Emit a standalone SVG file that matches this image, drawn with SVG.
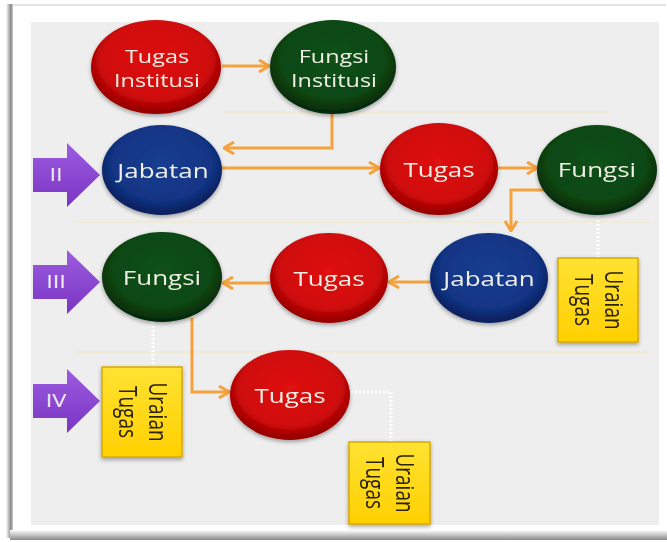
<svg xmlns="http://www.w3.org/2000/svg" width="667" height="542" viewBox="0 0 667 542">
<defs>
<style>
.nt{font-family:"Open Sans","Liberation Sans",sans-serif;font-size:20px;fill:#f0efe6;text-anchor:middle}
.nt2{font-family:"Open Sans","Liberation Sans",sans-serif;font-size:18px;fill:#f0efe6;text-anchor:middle}
.bt{font-family:"Open Sans","Liberation Sans",sans-serif;font-size:19px;fill:#2a2206;text-anchor:middle}
.at{font-family:"Open Sans","Liberation Sans",sans-serif;font-size:18px;fill:#f4ecff;text-anchor:middle}
.con{fill:none;stroke:#f4a23e;stroke-width:3;marker-end:url(#chev)}
.dot{fill:none;stroke:#ffffff;stroke-width:3;stroke-dasharray:2 2}
.sep{stroke:#efebd6;stroke-width:2}
.box{fill:url(#yel);stroke:#d9aa00;stroke-width:1.5}
.arr{fill:url(#pur)}
</style>
<radialGradient id="red" cx="50%" cy="42%" r="55%">
<stop offset="0" stop-color="#de1212"/><stop offset="0.75" stop-color="#d00a0a"/><stop offset="1" stop-color="#980000"/>
</radialGradient>
<radialGradient id="grn" cx="50%" cy="42%" r="55%">
<stop offset="0" stop-color="#125016"/><stop offset="0.75" stop-color="#0e4812"/><stop offset="1" stop-color="#062c09"/>
</radialGradient>
<radialGradient id="blu" cx="50%" cy="42%" r="55%">
<stop offset="0" stop-color="#173d8f"/><stop offset="0.75" stop-color="#123585"/><stop offset="1" stop-color="#0a2160"/>
</radialGradient>
<linearGradient id="yel" x1="0" y1="0" x2="0" y2="1">
<stop offset="0" stop-color="#ffe233"/><stop offset="1" stop-color="#ffd000"/>
</linearGradient>
<linearGradient id="pur" x1="0" y1="0" x2="0" y2="1">
<stop offset="0" stop-color="#9c5ce0"/><stop offset="1" stop-color="#7a34c2"/>
</linearGradient>
<linearGradient id="bot" x1="0" y1="0" x2="0" y2="1">
<stop offset="0" stop-color="#ffffff"/><stop offset="1" stop-color="#8a8a8a"/>
</linearGradient>
<linearGradient id="lft" x1="0" y1="0" x2="1" y2="0">
<stop offset="0" stop-color="#ffffff"/><stop offset="0.7" stop-color="#888888"/><stop offset="1" stop-color="#cfcfcf"/>
</linearGradient>
<filter id="sh" x="-20%" y="-20%" width="140%" height="150%">
<feGaussianBlur in="SourceAlpha" stdDeviation="2"/>
<feOffset dx="0" dy="2" result="o"/>
<feComponentTransfer><feFuncA type="linear" slope="0.35"/></feComponentTransfer>
<feMerge><feMergeNode/><feMergeNode in="SourceGraphic"/></feMerge>
</filter>
<marker id="chev" viewBox="0 0 12 14" refX="11" refY="7" markerWidth="12" markerHeight="14" markerUnits="userSpaceOnUse" orient="auto">
<path d="M1,1 L11,7 L1,13" fill="none" stroke="#f4a23e" stroke-width="3"/>
</marker>
</defs>

<!-- frame -->
<rect x="0" y="0" width="667" height="542" fill="#ffffff"/>
<rect x="8" y="4" width="658" height="2" fill="#e4e4e4"/>
<rect x="6" y="4" width="7" height="534" fill="url(#lft)"/>
<rect x="10" y="530" width="657" height="10" fill="url(#bot)"/>
<rect x="31" y="22" width="628" height="503" fill="#eeeeee"/>

<!-- separators -->
<g id="separators">
<line class="sep" x1="225" y1="112" x2="610" y2="112"/>
<line class="sep" x1="75" y1="222" x2="650" y2="222"/>
<line class="sep" x1="75" y1="352" x2="650" y2="352"/>
</g>

<!-- dotted links -->
<g id="dotted">
<path class="dot" d="M598,216 V258"/>
<path class="dot" d="M153,322 V367"/>
<path class="dot" d="M351,392 H391 V442"/>
</g>

<!-- connectors -->
<g id="connectors">
<path class="con" d="M222,66 H269"/>
<path class="con" d="M332,114 V148 H224"/>
<path class="con" d="M222,168 H379"/>
<path class="con" d="M498,168 H537"/>
<path class="con" d="M548,190 H511 V231"/>
<path class="con" d="M430,282 H389"/>
<path class="con" d="M270,283 H223"/>
<path class="con" d="M192,318 V392 H229"/>
</g>

<!-- level arrows -->
<g id="level-II">
<path class="arr" d="M33,158 H67 V143 L100,175 L67,207 V192 H33 Z"/>
<text class="at" transform="translate(56,181) scale(1.3,1)" x="0" y="0">II</text>
</g>
<g id="level-III">
<path class="arr" d="M33,265 H67 V250 L100,282 L67,314 V299 H33 Z"/>
<text class="at" transform="translate(56,288) scale(1.3,1)" x="0" y="0">III</text>
</g>
<g id="level-IV">
<path class="arr" d="M33,384 H67 V369 L100,401 L67,433 V418 H33 Z"/>
<text class="at" transform="translate(56,407) scale(1.3,1)" x="0" y="0">IV</text>
</g>

<!-- nodes -->
<g id="tugas-institusi" filter="url(#sh)">
<ellipse cx="156" cy="67" rx="65" ry="47" fill="url(#red)"/>
<g transform="translate(157,0) scale(1.3,1)"><text class="nt2" x="0" y="63">Tugas</text><text class="nt2" x="0" y="87">Institusi</text></g>
</g>
<g id="fungsi-institusi" filter="url(#sh)">
<ellipse cx="333" cy="67" rx="63" ry="47" fill="url(#grn)"/>
<g transform="translate(334,0) scale(1.3,1)"><text class="nt2" x="0" y="63">Fungsi</text><text class="nt2" x="0" y="87">Institusi</text></g>
</g>
<g id="jabatan-2" filter="url(#sh)">
<ellipse cx="162" cy="170" rx="60" ry="45" fill="url(#blu)"/>
<text class="nt" transform="translate(163,178) scale(1.3,1)">Jabatan</text>
</g>
<g id="tugas-2" filter="url(#sh)">
<ellipse cx="439" cy="169" rx="59" ry="46" fill="url(#red)"/>
<text class="nt" transform="translate(439,177) scale(1.3,1)">Tugas</text>
</g>
<g id="fungsi-2" filter="url(#sh)">
<ellipse cx="597" cy="170" rx="60" ry="45" fill="url(#grn)"/>
<text class="nt" transform="translate(597,177) scale(1.3,1)">Fungsi</text>
</g>
<g id="jabatan-3" filter="url(#sh)">
<ellipse cx="489" cy="278" rx="59" ry="45" fill="url(#blu)"/>
<text class="nt" transform="translate(489,286) scale(1.3,1)">Jabatan</text>
</g>
<g id="tugas-3" filter="url(#sh)">
<ellipse cx="329" cy="278" rx="59" ry="45" fill="url(#red)"/>
<text class="nt" transform="translate(329,286) scale(1.3,1)">Tugas</text>
</g>
<g id="fungsi-3" filter="url(#sh)">
<ellipse cx="162" cy="277" rx="60" ry="45" fill="url(#grn)"/>
<text class="nt" transform="translate(162,285) scale(1.3,1)">Fungsi</text>
</g>
<g id="tugas-4" filter="url(#sh)">
<ellipse cx="290" cy="395" rx="60" ry="45" fill="url(#red)"/>
<text class="nt" transform="translate(290,403) scale(1.3,1)">Tugas</text>
</g>

<!-- uraian tugas boxes -->
<g id="uraian-3" filter="url(#sh)">
<rect class="box" x="558" y="258" width="80" height="84"/>
<g transform="translate(600,300) scale(1.3,1) rotate(90)"><text class="bt" x="0" y="-4">Uraian</text><text class="bt" x="0" y="19">Tugas</text></g>
</g>
<g id="uraian-4" filter="url(#sh)">
<rect class="box" x="102" y="367" width="80" height="90"/>
<g transform="translate(144,412) scale(1.3,1) rotate(90)"><text class="bt" x="0" y="-4">Uraian</text><text class="bt" x="0" y="19">Tugas</text></g>
</g>
<g id="uraian-5" filter="url(#sh)">
<rect class="box" x="349" y="442" width="81" height="82"/>
<g transform="translate(391,483) scale(1.3,1) rotate(90)"><text class="bt" x="0" y="-4">Uraian</text><text class="bt" x="0" y="19">Tugas</text></g>
</g>
</svg>
